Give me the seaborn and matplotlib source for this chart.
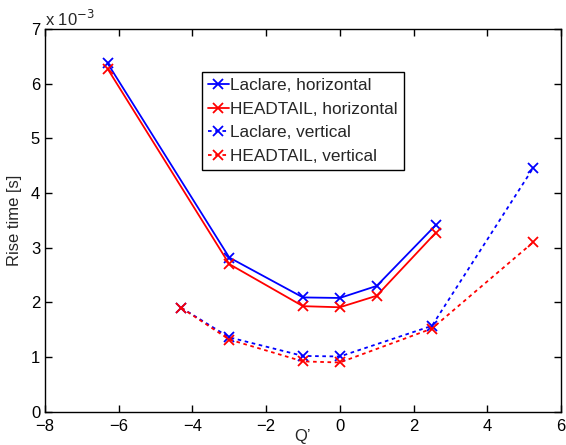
import matplotlib
matplotlib.use("Agg")
import matplotlib.pyplot as plt
import seaborn as sns
import pandas as pd
from matplotlib.ticker import FuncFormatter, MultipleLocator

sns.set_style("ticks")
plt.rcParams['font.family'] = ['Liberation Sans', 'DejaVu Sans']
plt.rcParams['xtick.direction'] = 'in'
plt.rcParams['ytick.direction'] = 'in'

# Data (rise time in seconds)
q_lac_h = [-6.3, -3.0, -1.0, 0.0, 1.0, 2.6]
t_lac_h = [6.37e-3, 2.82e-3, 2.09e-3, 2.08e-3, 2.30e-3, 3.41e-3]
q_ht_h = [-6.3, -3.0, -1.0, 0.0, 1.0, 2.6]
t_ht_h = [6.27e-3, 2.70e-3, 1.93e-3, 1.91e-3, 2.12e-3, 3.27e-3]
q_lac_v = [-4.3, -3.0, -1.0, 0.0, 2.5, 5.25]
t_lac_v = [1.90e-3, 1.36e-3, 1.02e-3, 1.01e-3, 1.57e-3, 4.46e-3]
q_ht_v = [-4.3, -3.0, -1.0, 0.0, 2.5, 5.25]
t_ht_v = [1.90e-3, 1.32e-3, 0.92e-3, 0.90e-3, 1.52e-3, 3.10e-3]

series = [
    ("Laclare, horizontal", q_lac_h, t_lac_h, "#0000ff", "-"),
    ("HEADTAIL, horizontal", q_ht_h, t_ht_h, "#ff0000", "-"),
    ("Laclare, vertical", q_lac_v, t_lac_v, "#0000ff", (0, (2, 2))),
    ("HEADTAIL, vertical", q_ht_v, t_ht_v, "#ff0000", (0, (2, 2))),
]

fig = plt.figure(figsize=(5.66, 4.45), dpi=100)
ax = fig.add_axes([0.0795, 0.0748, 0.9115, 0.8602])

for name, q, t, c, ls in series:
    df = pd.DataFrame({"Q": q, "T": t})
    sns.lineplot(data=df, x="Q", y="T", ax=ax, color=c, linestyle=ls,
                 marker="x", markersize=7, markeredgewidth=1.3,
                 markeredgecolor=c, markerfacecolor=c,
                 linewidth=1.3, label=name, sort=False)

ax.set_xlim(-8, 6)
ax.set_ylim(0, 7e-3)
ax.xaxis.set_major_locator(MultipleLocator(2))
ax.yaxis.set_major_locator(MultipleLocator(1e-3))
ax.yaxis.set_major_formatter(FuncFormatter(lambda v, p: f"{v*1e3:g}"))
ax.xaxis.set_major_formatter(FuncFormatter(lambda v, p: f"{v:g}".replace("-", "\u2212")))
ax.tick_params(top=True, right=True, labelsize=12, length=5, width=1, colors="black")
ax.tick_params(axis="x", pad=5)
for s in ax.spines.values():
    s.set_visible(True)
    s.set_linewidth(1)
    s.set_color("black")

ax.set_xlabel("Q\u2019", fontsize=12, labelpad=-3)
ax.set_ylabel("Rise time [s]", fontsize=12, labelpad=6)
ax.text(0.0, 1.0, "x 10$^{-3}$", transform=ax.transAxes, fontsize=12,
        ha="left", va="bottom")

leg = ax.legend(loc="upper left", bbox_to_anchor=(0.304, 0.888), borderaxespad=0,
                fancybox=False, edgecolor="black", framealpha=1, fontsize=12.4,
                handlelength=1.2, handletextpad=0.1, labelspacing=0.5,
                borderpad=0.35)
leg.get_frame().set_linewidth(1)

fig.savefig("out.png", dpi=100)
